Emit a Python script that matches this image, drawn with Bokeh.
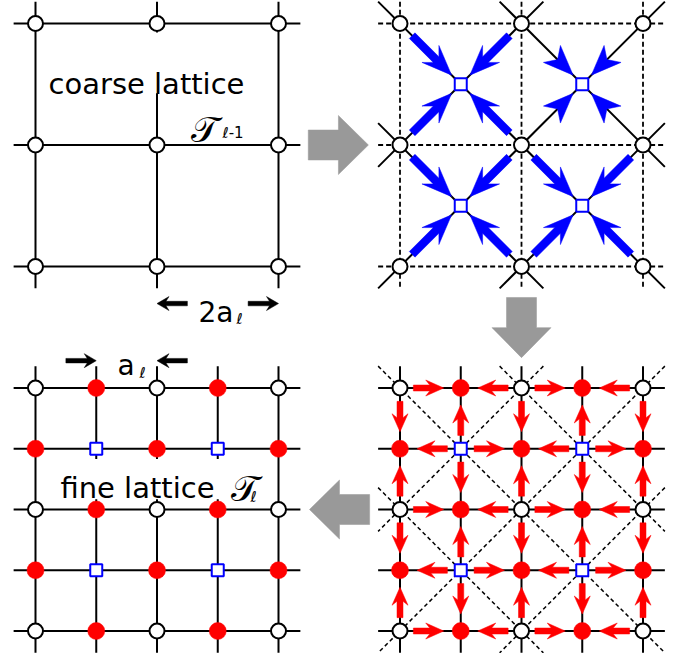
import math
from bokeh.plotting import figure
from bokeh.models import Range1d, Label
from bokeh.embed import file_html
from bokeh.resources import INLINE

# ---------------- data (lattice units: fine spacing a_l = 1, coarse = 2) ----------------
coarse_idx = [0, 2, 4]            # coarse lattice sites inside one panel
fine_idx = [0, 1, 2, 3, 4]        # fine lattice sites inside one panel
square_idx = [1, 3]               # plaquette-centre (blue square) sites
diag_offsets = [-2, 0, 2]         # u - v = d diagonals
anti_sums = [2, 4, 6]             # u + v = s anti-diagonals
panel_tl = (0, 0)
panel_tr = (6, 0)
panel_bl = (0, 6)
panel_br = (6, 6)
headless_square = (3, 1)          # blue arrows into this square show heads only
label_coarse = "coarse lattice"
label_fine = "fine lattice"
script_T = "𝒯"
sub_coarse = "ℓ-1"
sub_fine = "ℓ"
label_2a = "2a"
label_a = "a"

# ---------------- layout ----------------
S = 60.75                      # pixels per lattice unit
OX, OY = 35, 23                # pixel of lattice origin within the figure
W, H = 671, 653
EXT = 0.36
FONT = "DejaVu Sans"

p = figure(width=W, height=H, output_backend="svg", toolbar_location=None,
           x_range=Range1d((0 - OX) / S, (W - OX) / S),
           y_range=Range1d((H - OY) / S, (0 - OY) / S),
           min_border=0)
p.axis.visible = False
p.grid.visible = False
p.outline_line_color = None
p.background_fill_color = "white"
p.border_fill_color = "white"


def grid_lines(origin, idx):
    ox, oy = origin
    xs, ys = [], []
    for k in idx:
        xs.append([ox - EXT, ox + 4 + EXT]); ys.append([oy + k, oy + k])
        xs.append([ox + k, ox + k]); ys.append([oy - EXT, oy + 4 + EXT])
    return xs, ys


def diag_lines(origin):
    ox, oy = origin
    xs, ys = [], []
    lo, hi = -EXT, 4 + EXT
    for d in diag_offsets:
        v0, v1 = max(lo, lo - d), min(hi, hi - d)
        xs.append([ox + v0 + d, ox + v1 + d]); ys.append([oy + v0, oy + v1])
    for s in anti_sums:
        v0, v1 = max(lo, s - hi), min(hi, s - lo)
        xs.append([ox + s - v0, ox + s - v1]); ys.append([oy + v0, oy + v1])
    return xs, ys


def arrow_poly(x0, y0, x1, y1, shaft, hlen, hwid, notch):
    dx, dy = x1 - x0, y1 - y0
    L = math.hypot(dx, dy)
    ux, uy = dx / L, dy / L
    nx, ny = -uy, ux
    sw, hl, hw, nt = shaft / 2 / S, hlen / S, hwid / 2 / S, notch / S
    base = L - hl
    if shaft > 0:
        pts = [(0, sw), (base + nt, sw), (base, hw), (L, 0), (base, -hw), (base + nt, -sw), (0, -sw)]
    else:
        pts = [(base, hw), (L, 0), (base, -hw), (base + nt, 0)]
    return ([x0 + t * ux + n * nx for t, n in pts], [y0 + t * uy + n * ny for t, n in pts])


def add_arrows(arrows, color, shaft, hlen, hwid, notch):
    xs, ys = [], []
    for (a, b, c, d, sh) in arrows:
        px, py = arrow_poly(a, b, c, d, sh if sh is not None else shaft, hlen, hwid, notch)
        xs.append(px); ys.append(py)
    p.patches(xs, ys, fill_color=color, line_color=color, line_width=0.5)


# ---------------- grey block arrows between panels ----------------
grey = [
    (4.49, 2.0, 5.48, 2.0, None),   # top-left -> top-right
    (8.0, 4.51, 8.0, 5.50, None),   # top-right -> bottom-right
    (5.50, 8.0, 4.51, 8.0, None),   # bottom-right -> bottom-left
]
add_arrows(grey, "#999999", 30, 30, 59, 0)

# ---------------- top-left: coarse lattice ----------------
xs, ys = grid_lines(panel_tl, coarse_idx)
p.multi_line(xs, ys, line_color="black", line_width=2)
p.quad(left=[0.16], right=[3.8], top=[0.15], bottom=[1.15], fill_color="white", line_color=None)

# ---------------- top-right: coarse + blue arrows ----------------
xs, ys = grid_lines(panel_tr, coarse_idx)
p.multi_line(xs, ys, line_color="black", line_width=1.8, line_dash="5 3")
xs, ys = diag_lines(panel_tr)
p.multi_line(xs, ys, line_color="black", line_width=2)

blue_arrows = []
ox, oy = panel_tr
for si in square_idx:
    for sj in square_idx:
        for di in (-1, 1):
            for dj in (-1, 1):
                nx_, ny_ = si + di, sj + dj
                sx, sy = ox + si, oy + sj
                ax, ay = ox + nx_, oy + ny_
                sh = 0 if (si, sj) == headless_square else None
                blue_arrows.append((ax + 0.2 * (sx - ax), ay + 0.2 * (sy - ay),
                                    ax + 0.85 * (sx - ax), ay + 0.85 * (sy - ay), sh))
add_arrows(blue_arrows, "#0000ff", 8, 30, 24, 8)

# ---------------- bottom-right: fine + red arrows ----------------
xs, ys = grid_lines(panel_br, fine_idx)
p.multi_line(xs, ys, line_color="black", line_width=2)
xs, ys = diag_lines(panel_br)
p.multi_line(xs, ys, line_color="black", line_width=1.5, line_dash="4 3")

red_arrows = []
ox, oy = panel_br
for i in fine_idx:
    for j in fine_idx:
        if (i + j) % 2 == 1:
            for di, dj in ((1, 0), (-1, 0), (0, 1), (0, -1)):
                ni, nj = i + di, j + dj
                if ni in fine_idx and nj in fine_idx:
                    ax, ay = ox + ni, oy + nj
                    tx, ty = ox + i, oy + j
                    red_arrows.append((ax + 0.22 * (tx - ax), ay + 0.22 * (ty - ay),
                                       ax + 0.72 * (tx - ax), ay + 0.72 * (ty - ay), None))
add_arrows(red_arrows, "#ff0000", 6, 18, 16, 4)

# ---------------- bottom-left: fine lattice ----------------
xs, ys = grid_lines(panel_bl, fine_idx)
p.multi_line(xs, ys, line_color="black", line_width=2)
p.quad(left=[0.16], right=[3.85], top=[7.17], bottom=[7.83], fill_color="white", line_color=None)

# ---------------- sites ----------------
wx, wy, rx, ry, bx, by = [], [], [], [], [], []
for org in (panel_tl, panel_tr):
    for i in coarse_idx:
        for j in coarse_idx:
            wx.append(org[0] + i); wy.append(org[1] + j)
for i in square_idx:
    for j in square_idx:
        bx.append(panel_tr[0] + i); by.append(panel_tr[1] + j)
for org in (panel_bl, panel_br):
    for i in fine_idx:
        for j in fine_idx:
            if i % 2 == 0 and j % 2 == 0:
                wx.append(org[0] + i); wy.append(org[1] + j)
            elif (i + j) % 2 == 1:
                rx.append(org[0] + i); ry.append(org[1] + j)
            else:
                bx.append(org[0] + i); by.append(org[1] + j)
p.scatter(wx, wy, size=15, fill_color="white", line_color="black", line_width=2)
p.scatter(rx, ry, size=17, fill_color="#ff0000", line_color="#ff0000", line_width=0.5)
p.scatter(bx, by, marker="square", size=12, fill_color="white", line_color="#0000ff", line_width=2)

# ---------------- spacing arrows (black) ----------------
black = [
    (2.5, 4.61, 2.0, 4.61, None), (3.5, 4.61, 4.0, 4.61, None),
    (0.5, 5.55, 1.0, 5.55, None), (2.5, 5.55, 2.0, 5.55, None),
]
add_arrows(black, "black", 4.5, 12, 14, 3)

# ---------------- text ----------------
def lab(x, y, t, size, italic=False):
    p.add_layout(Label(x=x, y=y, text=t, text_font=FONT, text_font_size=size,
                       text_baseline="alphabetic", text_align="left", text_color="black",
                       text_font_style="italic" if italic else "normal"))

lab(0.214, 0.988, label_coarse, "29px")
lab(2.56, 1.74, script_T, "36px")
lab(3.078, 1.81, sub_coarse, "15px")
lab(2.683, 4.757, label_2a, "28px")
lab(3.31, 4.87, sub_fine, "15px")
lab(1.35, 5.63, label_a, "28px")
lab(1.71, 5.745, sub_fine, "15px")
lab(0.41, 7.654, label_fine, "29px")
lab(3.22, 7.654, script_T, "36px")
lab(3.54, 7.80, sub_fine, "15px")

open("out.html", "w").write(file_html(p, INLINE))
